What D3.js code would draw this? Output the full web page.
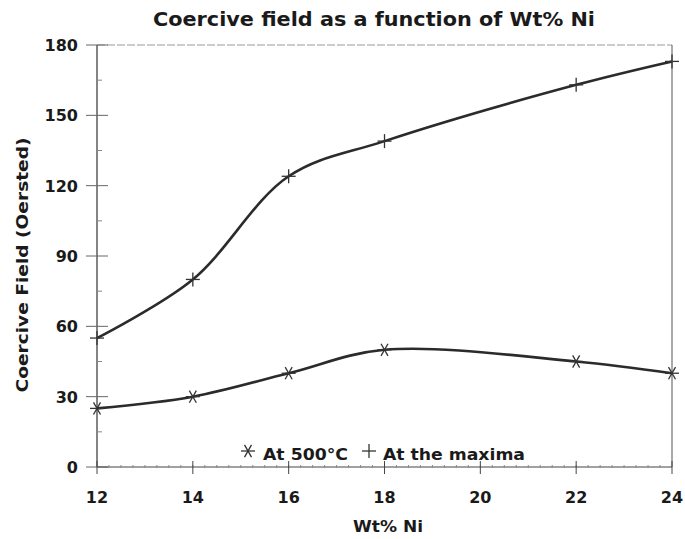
<!DOCTYPE html>
<html>
<head>
<meta charset="utf-8">
<script src="https://cdn.jsdelivr.net/npm/d3@7"></script>
<style>
  body { margin: 0; background: #fff; }
  svg text { font-family: "DejaVu Sans", "Liberation Sans", Arial, sans-serif; font-weight: bold; fill: #1a1a1a; }
</style>
</head>
<body>
<svg id="chart" width="685" height="539"></svg>
<script>
// Wt% Ni at which coercive field was measured
const wtNi = [12, 14, 16, 18, 22, 24];
// Coercive field (Oersted) after annealing at 500°C
const at500C = [25, 30, 40, 50, 45, 40];
// Coercive field (Oersted) at the maxima
const atMaxima = [55, 80, 124, 139, 163, 173];
const xTicks = [12, 14, 16, 18, 20, 22, 24];
const yTicks = [0, 30, 60, 90, 120, 150, 180];

const svg = d3.select("#chart");
const plotL = 97, plotR = 672, plotT = 45, plotB = 467;

const x = d3.scaleLinear().domain([12, 24]).range([plotL, plotR]);
const y = d3.scaleLinear().domain([0, 180]).range([plotB, plotT]);

// title
svg.append("text").attr("x", 374).attr("y", 26).attr("text-anchor", "middle")
  .attr("textLength", 442).attr("lengthAdjust", "spacingAndGlyphs")
  .style("font-size", "19px").text("Coercive field as a function of Wt% Ni");

// frame: faint top and right edges
svg.append("line").attr("x1", plotL).attr("x2", plotR).attr("y1", plotT).attr("y2", plotT)
  .attr("stroke", "#999").attr("stroke-width", 1).attr("stroke-dasharray", "8,2");
svg.append("line").attr("x1", plotR).attr("x2", plotR).attr("y1", plotT).attr("y2", plotB)
  .attr("stroke", "#555").attr("stroke-width", 1);

// y axis
const yAxis = svg.append("g");
yAxis.append("line").attr("x1", plotL).attr("x2", plotL).attr("y1", plotT).attr("y2", plotB)
  .attr("stroke", "#333").attr("stroke-width", 1.2);
yAxis.selectAll(".ymaj").data(yTicks).join("line")
  .attr("x1", plotL - 11).attr("x2", plotL + 11)
  .attr("y1", d => y(d)).attr("y2", d => y(d))
  .attr("stroke", "#666").attr("stroke-width", 1);
yAxis.selectAll(".ymin").data(d3.range(15, 180, 30)).join("line")
  .attr("x1", plotL).attr("x2", plotL + 5)
  .attr("y1", d => y(d)).attr("y2", d => y(d))
  .attr("stroke", "#888").attr("stroke-width", 1);
yAxis.selectAll("text").data(yTicks).join("text")
  .attr("x", plotL - 19).attr("y", d => y(d) + 6).attr("text-anchor", "end")
  .style("font-size", "16px").text(d => d);

// x axis
const xAxis = svg.append("g");
xAxis.append("line").attr("x1", plotL).attr("x2", plotR).attr("y1", plotB).attr("y2", plotB)
  .attr("stroke", "#444").attr("stroke-width", 1.2);
xAxis.selectAll(".xmin").data(d3.range(12.25, 24, 0.25)).join("line")
  .attr("x1", d => x(d)).attr("x2", d => x(d))
  .attr("y1", plotB - 2).attr("y2", plotB + 1)
  .attr("stroke", "#888").attr("stroke-width", 1);
xAxis.selectAll(".xmaj").data(xTicks).join("line")
  .attr("x1", d => x(d)).attr("x2", d => x(d))
  .attr("y1", plotB - 6).attr("y2", plotB + 7)
  .attr("stroke", "#444").attr("stroke-width", 1);
xAxis.selectAll("text").data(xTicks).join("text")
  .attr("x", d => x(d)).attr("y", 503).attr("text-anchor", "middle")
  .style("font-size", "16px").text(d => d);

// axis titles
svg.append("text").attr("x", 388).attr("y", 532).attr("text-anchor", "middle")
  .attr("textLength", 70).attr("lengthAdjust", "spacingAndGlyphs")
  .style("font-size", "15px").text("Wt% Ni");
svg.append("text").attr("transform", "translate(28,265) rotate(-90)")
  .attr("text-anchor", "middle").attr("textLength", 255).attr("lengthAdjust", "spacingAndGlyphs")
  .style("font-size", "15px").text("Coercive Field (Oersted)");

// curves
const line = d3.line().x(d => x(d[0])).y(d => y(d[1])).curve(d3.curveCatmullRom.alpha(0.5));
const series = [
  { name: "At 500°C", values: at500C, marker: "star" },
  { name: "At the maxima", values: atMaxima, marker: "plus" }
];
series.forEach(s => {
  const pts = wtNi.map((w, i) => [w, s.values[i]]);
  svg.append("path").datum(pts).attr("d", line)
    .attr("fill", "none").attr("stroke", "#2b2b2b").attr("stroke-width", 2.6);
  const g = svg.append("g");
  pts.forEach(p => drawMarker(g, x(p[0]), y(p[1]), s.marker));
});

function drawMarker(g, cx, cy, type) {
  const r = 7;
  const angles = type === "plus" ? [0, 90] : [0, 60, 120];
  angles.forEach(a => {
    const rad = a * Math.PI / 180;
    const dx = Math.cos(rad) * r, dy = Math.sin(rad) * r;
    g.append("line").attr("x1", cx - dx).attr("y1", cy - dy)
      .attr("x2", cx + dx).attr("y2", cy + dy)
      .attr("stroke", "#333").attr("stroke-width", 1.3);
  });
}

// legend
const lg = svg.append("g");
drawMarker(lg, 248, 451, "star");
lg.append("text").attr("x", 263).attr("y", 460).attr("textLength", 85)
  .attr("lengthAdjust", "spacingAndGlyphs").style("font-size", "15px").text("At 500°C");
drawMarker(lg, 369, 451, "plus");
lg.append("text").attr("x", 383).attr("y", 460).attr("textLength", 142)
  .attr("lengthAdjust", "spacingAndGlyphs").style("font-size", "15px").text("At the maxima");
</script>
</body>
</html>
